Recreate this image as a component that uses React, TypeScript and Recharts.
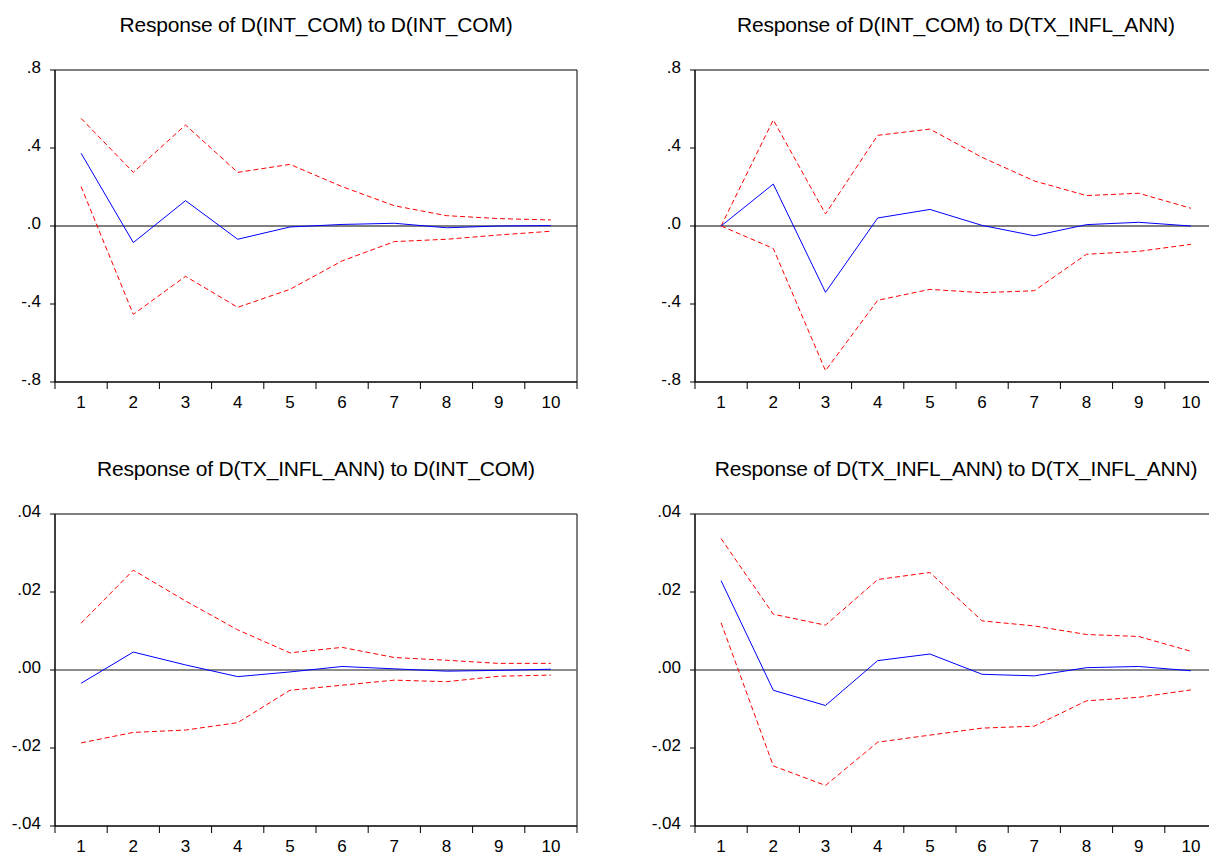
import { LineChart, Line, XAxis, YAxis, ReferenceLine, ReferenceArea } from 'recharts';

const periods = [1, 2, 3, 4, 5, 6, 7, 8, 9, 10];

// D(INT_COM) to D(INT_COM)
const tlResp = [0.373, -0.085, 0.13, -0.068, -0.005, 0.008, 0.014, -0.009, 0.0, 0.002];
const tlUpper = [0.552, 0.275, 0.518, 0.275, 0.316, 0.202, 0.104, 0.053, 0.038, 0.031];
const tlLower = [0.202, -0.453, -0.258, -0.417, -0.325, -0.179, -0.08, -0.068, -0.046, -0.027];

// D(INT_COM) to D(TX_INFL_ANN)
const trResp = [0.0, 0.215, -0.34, 0.041, 0.085, 0.003, -0.05, 0.007, 0.019, 0.0];
const trUpper = [0.0, 0.544, 0.062, 0.465, 0.497, 0.352, 0.231, 0.156, 0.168, 0.091];
const trLower = [0.0, -0.115, -0.742, -0.381, -0.325, -0.342, -0.332, -0.145, -0.13, -0.094];

// D(TX_INFL_ANN) to D(INT_COM)
const blResp = [-0.0034, 0.0046, 0.0013, -0.0017, -0.0005, 0.0009, 0.0003, -0.0003, -0.0001, 0.0002];
const blUpper = [0.012, 0.0256, 0.0177, 0.0103, 0.0044, 0.0058, 0.0032, 0.0025, 0.0017, 0.0017];
const blLower = [-0.0187, -0.016, -0.0154, -0.0135, -0.0052, -0.0039, -0.0026, -0.003, -0.0016, -0.0013];

// D(TX_INFL_ANN) to D(TX_INFL_ANN)
const brResp = [0.0229, -0.0052, -0.0091, 0.0024, 0.0041, -0.0011, -0.0015, 0.0006, 0.0009, -0.0002];
const brUpper = [0.0337, 0.0143, 0.0115, 0.0232, 0.025, 0.0126, 0.0113, 0.0091, 0.0086, 0.0048];
const brLower = [0.0121, -0.0246, -0.0296, -0.0185, -0.0167, -0.0149, -0.0144, -0.0079, -0.007, -0.0051];

const bigTicks = [-0.8, -0.4, 0, 0.4, 0.8];
const smallTicks = [-0.04, -0.02, 0, 0.02, 0.04];

const FONT = '"Liberation Sans", Arial, sans-serif';
const HALF_BAND = 26.1;

const fmt = (digits: number) => (v: number) => {
  const s = Math.abs(v).toFixed(digits).replace(/^0/, '');
  return v < 0 ? '-' + s : s;
};

const YTick = (props: any) => {
  const { x, y, payload, formatter } = props;
  return (
    <text x={x - 9} y={y - 3} dy="0.35em" textAnchor="end" fontSize={17} fill="#000" fontFamily={FONT}>
      {formatter(payload.value)}
    </text>
  );
};

const XTick = (props: any) => {
  const { x, y, payload, index } = props;
  return (
    <g>
      <line x1={x - HALF_BAND} x2={x - HALF_BAND} y1={y} y2={y + 7} stroke="#000" />
      {index === periods.length - 1 && (
        <line x1={x + HALF_BAND} x2={x + HALF_BAND} y1={y} y2={y + 7} stroke="#000" />
      )}
      <text x={x} y={y + 26} textAnchor="middle" fontSize={17} fill="#000" fontFamily={FONT}>
        {payload.value}
      </text>
    </g>
  );
};

type PanelProps = {
  title: string;
  left: number;
  top: number;
  resp: number[];
  upper: number[];
  lower: number[];
  ticks: number[];
  digits: number;
  zeroColor: string;
};

const Panel = ({ title, left, top, resp, upper, lower, ticks, digits, zeroColor }: PanelProps) => {
  const data = periods.map((p, i) => ({ p, resp: resp[i], upper: upper[i], lower: lower[i] }));
  const lo = ticks[0];
  const hi = ticks[ticks.length - 1];
  return (
    <>
      <div
        style={{
          position: 'absolute',
          left: left + 50,
          top: top - 57,
          width: 522,
          textAlign: 'center',
          fontFamily: FONT,
          fontSize: 21,
          color: '#000',
          whiteSpace: 'nowrap',
          letterSpacing: -0.2,
        }}
      >
        {title}
      </div>
      <div style={{ position: 'absolute', left, top: top - 20 }}>
        <LineChart width={582} height={372} data={data} margin={{ top: 20, right: 10, left: 0, bottom: 0 }}>
          <XAxis
            dataKey="p"
            type="number"
            domain={[0.5, 10.5]}
            ticks={periods}
            allowDataOverflow
            height={40}
            tickLine={false}
            tickSize={0}
            tickMargin={0}
            axisLine={{ stroke: '#000' }}
            tick={<XTick />}
            interval={0}
          />
          <YAxis
            type="number"
            domain={[lo, hi]}
            ticks={ticks}
            allowDataOverflow
            width={50}
            tickSize={5}
            tickMargin={0}
            tickLine={{ stroke: '#000' }}
            axisLine={{ stroke: '#000' }}
            tick={<YTick formatter={fmt(digits)} />}
            interval={0}
          />
          <ReferenceArea x1={0.5} x2={10.5} y1={lo} y2={hi} fill="none" fillOpacity={0} stroke="#000" strokeOpacity={1} />
          <ReferenceLine y={0} stroke={zeroColor} strokeWidth={digits === 1 ? 1 : 1.5} />
          <Line type="linear" dataKey="upper" stroke="#ff0000" strokeWidth={1} strokeDasharray="5 3" dot={false} isAnimationActive={false} />
          <Line type="linear" dataKey="lower" stroke="#ff0000" strokeWidth={1} strokeDasharray="5 3" dot={false} isAnimationActive={false} />
          <Line type="linear" dataKey="resp" stroke="#0000ff" strokeWidth={1} dot={false} isAnimationActive={false} />
        </LineChart>
      </div>
    </>
  );
};

export default function App() {
  return (
    <div
      style={{
        position: 'absolute',
        left: 0,
        top: 0,
        width: 1209,
        height: 855,
        overflow: 'hidden',
        background: '#fff',
      }}
    >
      <Panel
        title="Response of D(INT_COM) to D(INT_COM)"
        left={5}
        top={70}
        resp={tlResp}
        upper={tlUpper}
        lower={tlLower}
        ticks={bigTicks}
        digits={1}
        zeroColor="#000"
      />
      <Panel
        title="Response of D(INT_COM) to D(TX_INFL_ANN)"
        left={645}
        top={70}
        resp={trResp}
        upper={trUpper}
        lower={trLower}
        ticks={bigTicks}
        digits={1}
        zeroColor="#000"
      />
      <Panel
        title="Response of D(TX_INFL_ANN) to D(INT_COM)"
        left={5}
        top={514}
        resp={blResp}
        upper={blUpper}
        lower={blLower}
        ticks={smallTicks}
        digits={2}
        zeroColor="#666"
      />
      <Panel
        title="Response of D(TX_INFL_ANN) to D(TX_INFL_ANN)"
        left={645}
        top={514}
        resp={brResp}
        upper={brUpper}
        lower={brLower}
        ticks={smallTicks}
        digits={2}
        zeroColor="#666"
      />
    </div>
  );
}
